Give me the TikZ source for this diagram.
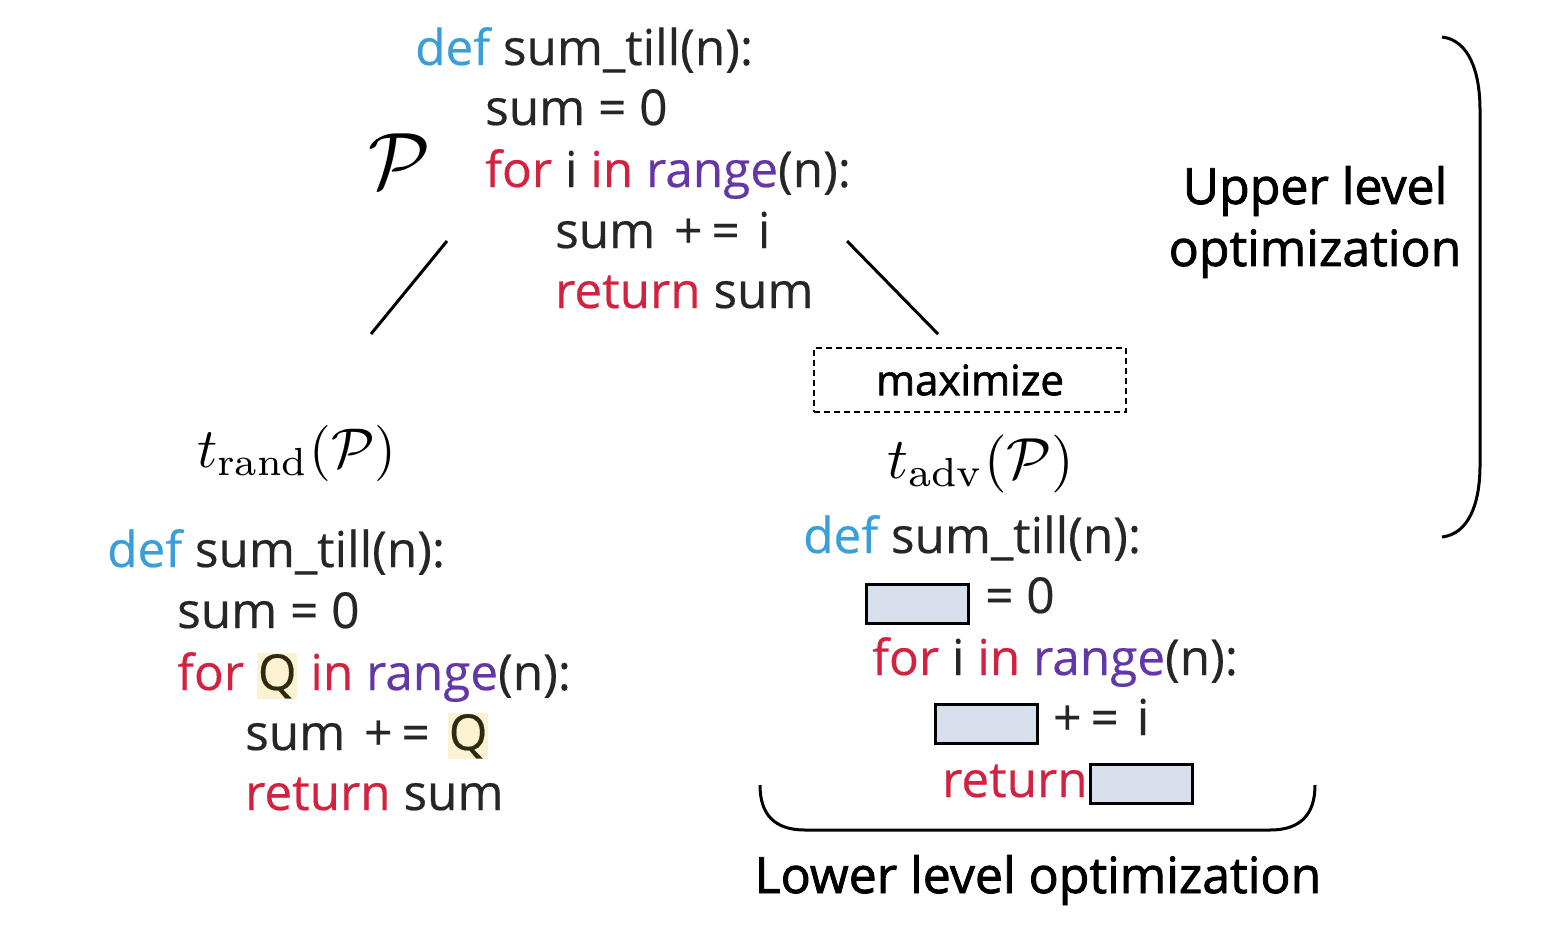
\documentclass[tikz,border=0pt]{standalone}
\usepackage{graphicx}
\usepackage{fontspec}
\newfontfamily\codefont{Open Sans}[FakeBold=0.4]
\newfontfamily\labelfont{Open Sans}[FakeBold=1.6]
\definecolor{kwblue}{HTML}{3A9FD8}
\definecolor{kwred}{HTML}{D2223F}
\definecolor{kwpurple}{HTML}{6437A6}
\definecolor{codetext}{HTML}{262626}
\definecolor{qbg}{HTML}{FCF2D2}
\definecolor{qtext}{HTML}{2E2A12}
\definecolor{slotfill}{HTML}{D7DFEC}
\newcommand\kwdef[1]{\textcolor{kwblue}{#1}}
\newcommand\kwred[1]{\textcolor{kwred}{#1}}
\newcommand\kwfun[1]{\textcolor{kwpurple}{#1}}
\newcommand\hlq{{\setlength\fboxsep{1pt}\colorbox{qbg}{\textcolor{qtext}{Q}}}}
\newcommand\pluseq{\hspace{19pt}+\hspace{9pt}=\hspace{18pt}}
\tikzset{
 code/.style={anchor=base west, inner sep=0pt, font=\codefont\fontsize{49.5}{58}\selectfont, text=codetext},
 lbl/.style={inner sep=0pt, font=\labelfont\fontsize{50}{62}\selectfont, text=black, align=center},
 mathlbl/.style={anchor=base west, inner sep=0pt},
 slot/.style={draw=black, line width=3pt, fill=slotfill, minimum width=102pt, minimum height=39pt, inner sep=0pt},
 link/.style={line width=3pt},
 brace/.style={line width=3pt},
}
\begin{document}
\begin{tikzpicture}[x=1pt,y=-1pt]
\useasboundingbox (0,0) rectangle (1562,948);
% top program
\node[code] (t1) at (415,65) {\kwdef{def} sum\_till(n):};
\node[code] (t2) at (485,125) {sum = 0};
\node[code] (t3) at (485,187) {\kwred{for} i \kwred{in} \kwfun{range}(n):};
\node[code] (t4) at (555,248) {sum\pluseq i};
\node[code] (t5) at (555,308) {\kwred{return} sum};
\node[mathlbl] (P) at (368,188) {\scalebox{8}{$\mathcal{P}$}};
% links
\coordinate (la) at (447,241);
\coordinate (lb) at (371,334);
\coordinate (ra) at (847,241);
\coordinate (rb) at (938,334);
\draw[link] (la) -- (lb);
\draw[link] (ra) -- (rb);
% labels
\node[mathlbl] (trand) at (197,467) {\scalebox{5.6}{$t_{\mathrm{rand}}(\mathcal{P})$}};
\node[mathlbl] (tadv) at (887,478) {\scalebox{5.8}{$t_{\mathrm{adv}}(\mathcal{P})$}};
\node[draw, dashed, dash pattern=on 6pt off 4pt, line width=1.6pt, minimum width=312pt, minimum height=64pt, inner sep=0pt, font=\labelfont\fontsize{42}{48}\selectfont] (max) at (970,380) {maximize};
% random transformed program
\node[code] (b1) at (107,567) {\kwdef{def} sum\_till(n):};
\node[code] (b2) at (177,628) {sum = 0};
\node[code] (b3) at (177,690) {\kwred{for} \hlq{} \kwred{in} \kwfun{range}(n):};
\node[code] (b4) at (245,750) {sum\pluseq\hlq};
\node[code] (b5) at (245,810) {\kwred{return} sum};
% adversarial program
\node[code] (a1) at (803,553) {\kwdef{def} sum\_till(n):};
\node[slot] (s1) at (917,603.5) {};
\node[code] (a2) at (985,613) {= 0};
\node[code] (a3) at (872,675) {\kwred{for} i \kwred{in} \kwfun{range}(n):};
\node[slot] (s2) at (986,724) {};
\node[code] (a4) at (1053,735) {+\hspace{9pt}=\hspace{18pt}i};
\node[code] (a5) at (942,797) {\kwred{return}};
\node[slot] (s3) at (1141,783.5) {};
% braces
\coordinate (ub1) at (1442,37);
\coordinate (ub2) at (1442,537);
\draw[brace] (ub1) .. controls (1468,40) and (1480,70) .. (1480,110) -- (1480,465) .. controls (1480,505) and (1468,534) .. (ub2);
\node[lbl] (upper) at (1315,222) {Upper level\\optimization};
\coordinate (lb1) at (760,785);
\coordinate (lb2) at (1315,785);
\draw[brace] (lb1) .. controls (760,815) and (775,830) .. (805,830) -- (1270,830) .. controls (1300,830) and (1315,815) .. (lb2);
\node[lbl] (lower) at (1038,880) {Lower level optimization};
\end{tikzpicture}
\end{document}
